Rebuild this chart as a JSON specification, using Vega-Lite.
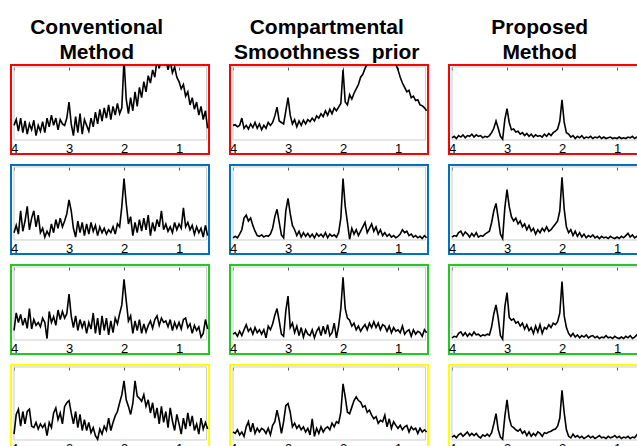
{
"$schema":"https://vega.github.io/schema/vega-lite/v6.json",
"background":"#ffffff",
"padding":{"left":9,"top":17,"right":0,"bottom":0},
"spacing":18,
"config":{"view":{"strokeWidth":2},"title":{"font":"Liberation Sans","fontSize":21,"fontWeight":"bold","lineHeight":25,"color":"#000000","anchor":"middle","offset":1},
"axisX":{"values":[4,3,2,1],"format":"d","domain":false,"ticks":false,"grid":false,"offset":-14,"labelPadding":2,"labelFontSize":13,"labelFont":"Liberation Sans","labelColor":"#000000","labelFlush":false,"title":null}},
"data":{"values":[
{"x":4.00,"a":0.20,"b":0.20,"c":0.03,"d":0.10,"e":0.03,"f":0.04,"g":0.13,"h":0.08,"i":0.03,"j":0.08,"k":0.11,"l":0.04},
{"x":3.96,"a":0.28,"b":0.21,"c":0.05,"d":0.20,"e":0.05,"f":0.06,"g":0.37,"h":0.10,"i":0.05,"j":0.35,"k":0.09,"l":0.06},
{"x":3.92,"a":0.12,"b":0.18,"c":0.02,"d":0.08,"e":0.03,"f":0.05,"g":0.24,"h":0.05,"i":0.04,"j":0.42,"k":0.14,"l":0.03},
{"x":3.88,"a":0.30,"b":0.20,"c":0.06,"d":0.40,"e":0.08,"f":0.10,"g":0.35,"h":0.12,"i":0.09,"j":0.19,"k":0.07,"l":0.07},
{"x":3.84,"a":0.10,"b":0.30,"c":0.04,"d":0.12,"e":0.14,"f":0.12,"g":0.20,"h":0.06,"i":0.11,"j":0.39,"k":0.11,"l":0.09},
{"x":3.80,"a":0.26,"b":0.16,"c":0.07,"d":0.26,"e":0.30,"f":0.06,"g":0.30,"h":0.14,"i":0.06,"j":0.22,"k":0.05,"l":0.05},
{"x":3.76,"a":0.08,"b":0.20,"c":0.03,"d":0.46,"e":0.34,"f":0.11,"g":0.16,"h":0.21,"i":0.10,"j":0.39,"k":0.18,"l":0.08},
{"x":3.72,"a":0.22,"b":0.15,"c":0.06,"d":0.14,"e":0.26,"f":0.08,"g":0.43,"h":0.12,"i":0.05,"j":0.42,"k":0.25,"l":0.11},
{"x":3.68,"a":0.14,"b":0.22,"c":0.05,"d":0.30,"e":0.30,"f":0.04,"g":0.15,"h":0.16,"i":0.09,"j":0.19,"k":0.11,"l":0.06},
{"x":3.64,"a":0.27,"b":0.17,"c":0.08,"d":0.40,"e":0.20,"f":0.09,"g":0.28,"h":0.08,"i":0.06,"j":0.17,"k":0.23,"l":0.09},
{"x":3.60,"a":0.06,"b":0.24,"c":0.04,"d":0.18,"e":0.12,"f":0.05,"g":0.20,"h":0.17,"i":0.11,"j":0.24,"k":0.09,"l":0.06},
{"x":3.56,"a":0.20,"b":0.16,"c":0.07,"d":0.34,"e":0.06,"f":0.10,"g":0.24,"h":0.10,"i":0.07,"j":0.15,"k":0.16,"l":0.09},
{"x":3.52,"a":0.12,"b":0.22,"c":0.05,"d":0.10,"e":0.05,"f":0.04,"g":0.18,"h":0.14,"i":0.08,"j":0.22,"k":0.11,"l":0.05},
{"x":3.48,"a":0.25,"b":0.14,"c":0.06,"d":0.16,"e":0.07,"f":0.06,"g":0.30,"h":0.08,"i":0.05,"j":0.17,"k":0.16,"l":0.03},
{"x":3.44,"a":0.10,"b":0.20,"c":0.03,"d":0.04,"e":0.04,"f":0.05,"g":0.24,"h":0.14,"i":0.07,"j":0.22,"k":0.14,"l":0.07},
{"x":3.40,"a":0.30,"b":0.16,"c":0.05,"d":0.12,"e":0.06,"f":0.08,"g":0.02,"h":0.03,"i":0.06,"j":0.06,"k":0.09,"l":0.05},
{"x":3.36,"a":0.18,"b":0.24,"c":0.04,"d":0.06,"e":0.05,"f":0.10,"g":0.39,"h":0.19,"i":0.08,"j":0.24,"k":0.16,"l":0.08},
{"x":3.32,"a":0.34,"b":0.20,"c":0.06,"d":0.22,"e":0.08,"f":0.12,"g":0.24,"h":0.14,"i":0.07,"j":0.17,"k":0.07,"l":0.05},
{"x":3.28,"a":0.20,"b":0.24,"c":0.10,"d":0.10,"e":0.16,"f":0.24,"g":0.32,"h":0.22,"i":0.18,"j":0.37,"k":0.20,"l":0.10},
{"x":3.24,"a":0.30,"b":0.33,"c":0.16,"d":0.28,"e":0.32,"f":0.40,"g":0.20,"h":0.34,"i":0.36,"j":0.44,"k":0.25,"l":0.22},
{"x":3.20,"a":0.14,"b":0.45,"c":0.26,"d":0.16,"e":0.42,"f":0.50,"g":0.41,"h":0.43,"i":0.48,"j":0.28,"k":0.41,"l":0.36},
{"x":3.16,"a":0.28,"b":0.26,"c":0.16,"d":0.30,"e":0.24,"f":0.30,"g":0.28,"h":0.26,"i":0.30,"j":0.37,"k":0.27,"l":0.14},
{"x":3.12,"a":0.22,"b":0.24,"c":0.05,"d":0.18,"e":0.07,"f":0.08,"g":0.39,"h":0.08,"i":0.06,"j":0.22,"k":0.09,"l":0.04},
{"x":3.08,"a":0.20,"b":0.22,"c":0.01,"d":0.26,"e":0.03,"f":0.02,"g":0.30,"h":0.05,"i":0.01,"j":0.46,"k":0.25,"l":0.01},
{"x":3.04,"a":0.30,"b":0.40,"c":0.28,"d":0.36,"e":0.40,"f":0.44,"g":0.36,"h":0.40,"i":0.45,"j":0.51,"k":0.47,"l":0.32},
{"x":3.00,"a":0.52,"b":0.58,"c":0.43,"d":0.55,"e":0.57,"f":0.69,"g":0.63,"h":0.60,"i":0.65,"j":0.54,"k":0.50,"l":0.55},
{"x":2.96,"a":0.22,"b":0.34,"c":0.24,"d":0.40,"e":0.36,"f":0.46,"g":0.33,"h":0.17,"i":0.31,"j":0.37,"k":0.38,"l":0.30},
{"x":2.92,"a":0.06,"b":0.22,"c":0.14,"d":0.16,"e":0.20,"f":0.32,"g":0.17,"h":0.23,"i":0.27,"j":0.22,"k":0.18,"l":0.19},
{"x":2.88,"a":0.32,"b":0.28,"c":0.15,"d":0.04,"e":0.14,"f":0.26,"g":0.33,"h":0.10,"i":0.29,"j":0.39,"k":0.23,"l":0.17},
{"x":2.84,"a":0.10,"b":0.18,"c":0.11,"d":0.26,"e":0.06,"f":0.30,"g":0.13,"h":0.19,"i":0.23,"j":0.17,"k":0.16,"l":0.14},
{"x":2.80,"a":0.36,"b":0.26,"c":0.12,"d":0.10,"e":0.12,"f":0.22,"g":0.28,"h":0.06,"i":0.25,"j":0.35,"k":0.20,"l":0.12},
{"x":2.76,"a":0.08,"b":0.20,"c":0.08,"d":0.24,"e":0.04,"f":0.26,"g":0.17,"h":0.17,"i":0.19,"j":0.13,"k":0.14,"l":0.15},
{"x":2.72,"a":0.28,"b":0.27,"c":0.10,"d":0.06,"e":0.10,"f":0.18,"g":0.26,"h":0.04,"i":0.23,"j":0.28,"k":0.18,"l":0.09},
{"x":2.68,"a":0.20,"b":0.22,"c":0.06,"d":0.22,"e":0.05,"f":0.22,"g":0.09,"h":0.14,"i":0.15,"j":0.13,"k":0.11,"l":0.12},
{"x":2.64,"a":0.12,"b":0.28,"c":0.09,"d":0.08,"e":0.09,"f":0.14,"g":0.24,"h":0.08,"i":0.21,"j":0.24,"k":0.16,"l":0.06},
{"x":2.60,"a":0.30,"b":0.25,"c":0.05,"d":0.24,"e":0.04,"f":0.20,"g":0.15,"h":0.06,"i":0.13,"j":0.10,"k":0.07,"l":0.11},
{"x":2.56,"a":0.18,"b":0.30,"c":0.08,"d":0.12,"e":0.08,"f":0.12,"g":0.37,"h":0.14,"i":0.17,"j":0.17,"k":0.29,"l":0.05},
{"x":2.52,"a":0.38,"b":0.26,"c":0.04,"d":0.20,"e":0.03,"f":0.16,"g":0.09,"h":0.03,"i":0.09,"j":0.06,"k":0.05,"l":0.09},
{"x":2.48,"a":0.22,"b":0.33,"c":0.07,"d":0.06,"e":0.09,"f":0.08,"g":0.30,"h":0.12,"i":0.19,"j":0.01,"k":0.16,"l":0.06},
{"x":2.44,"a":0.42,"b":0.30,"c":0.05,"d":0.18,"e":0.05,"f":0.14,"g":0.07,"h":0.17,"i":0.11,"j":0.15,"k":0.09,"l":0.11},
{"x":2.40,"a":0.26,"b":0.36,"c":0.06,"d":0.10,"e":0.08,"f":0.10,"g":0.33,"h":0.06,"i":0.21,"j":0.08,"k":0.18,"l":0.09},
{"x":2.36,"a":0.44,"b":0.32,"c":0.04,"d":0.16,"e":0.04,"f":0.16,"g":0.13,"h":0.19,"i":0.09,"j":0.19,"k":0.11,"l":0.05},
{"x":2.32,"a":0.30,"b":0.40,"c":0.08,"d":0.08,"e":0.10,"f":0.12,"g":0.30,"h":0.08,"i":0.17,"j":0.13,"k":0.16,"l":0.10},
{"x":2.28,"a":0.48,"b":0.34,"c":0.05,"d":0.14,"e":0.03,"f":0.18,"g":0.07,"h":0.21,"i":0.15,"j":0.30,"k":0.18,"l":0.09},
{"x":2.24,"a":0.28,"b":0.42,"c":0.09,"d":0.10,"e":0.08,"f":0.12,"g":0.26,"h":0.06,"i":0.21,"j":0.13,"k":0.14,"l":0.11},
{"x":2.20,"a":0.46,"b":0.36,"c":0.06,"d":0.18,"e":0.05,"f":0.14,"g":0.10,"h":0.10,"i":0.17,"j":0.24,"k":0.23,"l":0.12},
{"x":2.16,"a":0.34,"b":0.44,"c":0.10,"d":0.08,"e":0.07,"f":0.18,"g":0.30,"h":0.23,"i":0.23,"j":0.33,"k":0.18,"l":0.14},
{"x":2.12,"a":0.50,"b":0.40,"c":0.12,"d":0.22,"e":0.04,"f":0.22,"g":0.22,"h":0.03,"i":0.21,"j":0.39,"k":0.25,"l":0.15},
{"x":2.08,"a":0.36,"b":0.45,"c":0.15,"d":0.18,"e":0.10,"f":0.26,"g":0.36,"h":0.19,"i":0.25,"j":0.51,"k":0.23,"l":0.19},
{"x":2.04,"a":0.44,"b":0.50,"c":0.26,"d":0.46,"e":0.30,"f":0.40,"g":0.48,"h":0.43,"i":0.37,"j":0.62,"k":0.38,"l":0.30},
{"x":2.00,"a":1.10,"b":0.96,"c":0.55,"d":0.84,"e":0.84,"f":0.86,"g":0.83,"h":0.86,"i":0.80,"j":0.81,"k":0.77,"l":0.68},
{"x":1.96,"a":0.56,"b":0.52,"c":0.24,"d":0.50,"e":0.46,"f":0.42,"g":0.54,"h":0.43,"i":0.33,"j":0.55,"k":0.59,"l":0.37},
{"x":1.92,"a":0.36,"b":0.48,"c":0.10,"d":0.22,"e":0.24,"f":0.18,"g":0.26,"h":0.30,"i":0.17,"j":0.46,"k":0.38,"l":0.14},
{"x":1.88,"a":0.58,"b":0.62,"c":0.08,"d":0.32,"e":0.01,"f":0.10,"g":0.33,"h":0.27,"i":0.09,"j":0.35,"k":0.36,"l":0.05},
{"x":1.84,"a":0.40,"b":0.56,"c":0.04,"d":0.06,"e":0.16,"f":0.14,"g":0.09,"h":0.19,"i":0.05,"j":0.50,"k":0.45,"l":0.03},
{"x":1.80,"a":0.66,"b":0.64,"c":0.06,"d":0.24,"e":0.08,"f":0.06,"g":0.26,"h":0.23,"i":0.09,"j":0.81,"k":0.54,"l":0.08},
{"x":1.76,"a":0.46,"b":0.70,"c":0.02,"d":0.10,"e":0.14,"f":0.12,"g":0.13,"h":0.14,"i":0.04,"j":0.60,"k":0.59,"l":0.04},
{"x":1.72,"a":0.72,"b":0.76,"c":0.05,"d":0.28,"e":0.06,"f":0.05,"g":0.28,"h":0.19,"i":0.07,"j":0.57,"k":0.54,"l":0.06},
{"x":1.68,"a":0.58,"b":0.86,"c":0.03,"d":0.12,"e":0.12,"f":0.10,"g":0.09,"h":0.12,"i":0.03,"j":0.53,"k":0.52,"l":0.03},
{"x":1.64,"a":0.80,"b":0.90,"c":0.06,"d":0.30,"e":0.18,"f":0.04,"g":0.22,"h":0.17,"i":0.06,"j":0.62,"k":0.45,"l":0.05},
{"x":1.60,"a":0.66,"b":0.98,"c":0.02,"d":0.14,"e":0.24,"f":0.08,"g":0.11,"h":0.21,"i":0.04,"j":0.46,"k":0.47,"l":0.02},
{"x":1.56,"a":0.88,"b":1.04,"c":0.04,"d":0.34,"e":0.10,"f":0.03,"g":0.20,"h":0.14,"i":0.07,"j":0.55,"k":0.38,"l":0.04},
{"x":1.52,"a":0.78,"b":1.10,"c":0.03,"d":0.06,"e":0.16,"f":0.06,"g":0.26,"h":0.23,"i":0.03,"j":0.37,"k":0.41,"l":0.06},
{"x":1.48,"a":0.96,"b":1.15,"c":0.05,"d":0.24,"e":0.22,"f":0.04,"g":0.16,"h":0.17,"i":0.05,"j":0.51,"k":0.34,"l":0.03},
{"x":1.44,"a":0.86,"b":1.20,"c":0.02,"d":0.12,"e":0.12,"f":0.07,"g":0.28,"h":0.25,"i":0.06,"j":0.30,"k":0.29,"l":0.05},
{"x":1.40,"a":1.10,"b":1.24,"c":0.04,"d":0.28,"e":0.18,"f":0.03,"g":0.33,"h":0.17,"i":0.03,"j":0.44,"k":0.32,"l":0.02},
{"x":1.36,"a":0.98,"b":1.28,"c":0.03,"d":0.18,"e":0.08,"f":0.05,"g":0.20,"h":0.23,"i":0.05,"j":0.22,"k":0.23,"l":0.04},
{"x":1.32,"a":1.15,"b":1.30,"c":0.05,"d":0.40,"e":0.14,"f":0.02,"g":0.30,"h":0.14,"i":0.02,"j":0.46,"k":0.27,"l":0.06},
{"x":1.28,"a":1.05,"b":1.32,"c":0.02,"d":0.14,"e":0.06,"f":0.05,"g":0.24,"h":0.21,"i":0.04,"j":0.24,"k":0.25,"l":0.03},
{"x":1.24,"a":1.12,"b":1.30,"c":0.04,"d":0.22,"e":0.10,"f":0.03,"g":0.26,"h":0.19,"i":0.03,"j":0.39,"k":0.34,"l":0.04},
{"x":1.20,"a":0.96,"b":1.28,"c":0.02,"d":0.12,"e":0.05,"f":0.04,"g":0.18,"h":0.12,"i":0.06,"j":0.17,"k":0.18,"l":0.02},
{"x":1.16,"a":1.08,"b":1.22,"c":0.03,"d":0.18,"e":0.08,"f":0.02,"g":0.28,"h":0.19,"i":0.03,"j":0.44,"k":0.29,"l":0.05},
{"x":1.12,"a":0.92,"b":1.16,"c":0.04,"d":0.10,"e":0.04,"f":0.05,"g":0.13,"h":0.10,"i":0.04,"j":0.26,"k":0.16,"l":0.03},
{"x":1.08,"a":1.00,"b":1.10,"c":0.02,"d":0.24,"e":0.06,"f":0.03,"g":0.24,"h":0.17,"i":0.02,"j":0.13,"k":0.25,"l":0.04},
{"x":1.04,"a":0.86,"b":1.04,"c":0.03,"d":0.14,"e":0.03,"f":0.02,"g":0.16,"h":0.12,"i":0.05,"j":0.35,"k":0.20,"l":0.06},
{"x":1.00,"a":0.80,"b":0.96,"c":0.02,"d":0.22,"e":0.05,"f":0.04,"g":0.24,"h":0.14,"i":0.03,"j":0.22,"k":0.16,"l":0.03},
{"x":0.96,"a":0.70,"b":0.86,"c":0.04,"d":0.16,"e":0.08,"f":0.02,"g":0.15,"h":0.10,"i":0.02,"j":0.08,"k":0.20,"l":0.05},
{"x":0.92,"a":0.76,"b":0.78,"c":0.02,"d":0.44,"e":0.14,"f":0.05,"g":0.28,"h":0.19,"i":0.04,"j":0.30,"k":0.14,"l":0.02},
{"x":0.88,"a":0.60,"b":0.72,"c":0.03,"d":0.18,"e":0.10,"f":0.03,"g":0.30,"h":0.08,"i":0.02,"j":0.15,"k":0.18,"l":0.04},
{"x":0.84,"a":0.66,"b":0.66,"c":0.02,"d":0.24,"e":0.12,"f":0.06,"g":0.17,"h":0.12,"i":0.05,"j":0.37,"k":0.20,"l":0.03},
{"x":0.80,"a":0.48,"b":0.68,"c":0.04,"d":0.14,"e":0.06,"f":0.09,"g":0.22,"h":0.14,"i":0.03,"j":0.19,"k":0.11,"l":0.05},
{"x":0.76,"a":0.58,"b":0.58,"c":0.03,"d":0.20,"e":0.08,"f":0.04,"g":0.09,"h":0.05,"i":0.06,"j":0.33,"k":0.18,"l":0.02},
{"x":0.72,"a":0.42,"b":0.60,"c":0.05,"d":0.08,"e":0.04,"f":0.07,"g":0.20,"h":0.14,"i":0.02,"j":0.13,"k":0.14,"l":0.04},
{"x":0.68,"a":0.52,"b":0.54,"c":0.02,"d":0.18,"e":0.06,"f":0.03,"g":0.13,"h":0.08,"i":0.04,"j":0.22,"k":0.16,"l":0.03},
{"x":0.64,"a":0.34,"b":0.55,"c":0.04,"d":0.10,"e":0.03,"f":0.05,"g":0.18,"h":0.12,"i":0.07,"j":0.08,"k":0.09,"l":0.07},
{"x":0.60,"a":0.46,"b":0.48,"c":0.03,"d":0.16,"e":0.05,"f":0.02,"g":0.04,"h":0.10,"i":0.03,"j":0.30,"k":0.16,"l":0.03},
{"x":0.56,"a":0.28,"b":0.47,"c":0.06,"d":0.04,"e":0.02,"f":0.04,"g":0.09,"h":0.05,"i":0.06,"j":0.15,"k":0.11,"l":0.05},
{"x":0.52,"a":0.40,"b":0.44,"c":0.03,"d":0.20,"e":0.06,"f":0.03,"g":0.28,"h":0.14,"i":0.04,"j":0.24,"k":0.14,"l":0.04},
{"x":0.48,"a":0.16,"b":0.40,"c":0.04,"d":0.06,"e":0.03,"f":0.05,"g":0.15,"h":0.10,"i":0.05,"j":0.15,"k":0.11,"l":0.08}
]},
"hconcat":[
{"title":{"text":["Conventional","Method"],"dx":-13},"spacing":8,"vconcat":[
{"width":198,"height":89,"view":{"stroke":"#ff0000"},"resolve":{"axis":{"x":"independent"}},"layer":[
{"data":{"values":[{}]},"mark":{"type":"rect","fillOpacity":0,"stroke":"#cccccc","strokeWidth":1},"encoding":{"x":{"datum":4,"type":"quantitative","scale":{"domain":[0.455,4.055],"reverse":true},"axis":{"orient":"top","offset":-2,"labels":false,"ticks":true,"tickSize":-3,"tickColor":"#555555"}},"x2":{"datum":0.5},"y":{"datum":0,"type":"quantitative","scale":{"domain":[-0.192,1.027]},"axis":null},"y2":{"datum":1}}},
{"mark":{"type":"line","color":"#000000","strokeWidth":1.6,"clip":true},"encoding":{"x":{"field":"x","type":"quantitative","scale":{"domain":[0.455,4.055],"reverse":true},"axis":{"orient":"bottom"}},"y":{"field":"a","type":"quantitative","scale":{"domain":[-0.192,1.027]},"axis":null}}}]},
{"width":198,"height":89,"view":{"stroke":"#0070c0"},"resolve":{"axis":{"x":"independent"}},"layer":[
{"data":{"values":[{}]},"mark":{"type":"rect","fillOpacity":0,"stroke":"#cccccc","strokeWidth":1},"encoding":{"x":{"datum":4,"type":"quantitative","scale":{"domain":[0.455,4.055],"reverse":true},"axis":{"orient":"top","offset":-2,"labels":false,"ticks":true,"tickSize":-3,"tickColor":"#555555"}},"x2":{"datum":0.5},"y":{"datum":0,"type":"quantitative","scale":{"domain":[-0.192,1.027]},"axis":null},"y2":{"datum":1}}},
{"mark":{"type":"line","color":"#000000","strokeWidth":1.6,"clip":true},"encoding":{"x":{"field":"x","type":"quantitative","scale":{"domain":[0.455,4.055],"reverse":true},"axis":{"orient":"bottom"}},"y":{"field":"d","type":"quantitative","scale":{"domain":[-0.192,1.027]},"axis":null}}}]},
{"width":198,"height":89,"view":{"stroke":"#1ecb1e"},"resolve":{"axis":{"x":"independent"}},"layer":[
{"data":{"values":[{}]},"mark":{"type":"rect","fillOpacity":0,"stroke":"#cccccc","strokeWidth":1},"encoding":{"x":{"datum":4,"type":"quantitative","scale":{"domain":[0.455,4.055],"reverse":true},"axis":{"orient":"top","offset":-2,"labels":false,"ticks":true,"tickSize":-3,"tickColor":"#555555"}},"x2":{"datum":0.5},"y":{"datum":0,"type":"quantitative","scale":{"domain":[-0.192,1.027]},"axis":null},"y2":{"datum":1}}},
{"mark":{"type":"line","color":"#000000","strokeWidth":1.6,"clip":true},"encoding":{"x":{"field":"x","type":"quantitative","scale":{"domain":[0.455,4.055],"reverse":true},"axis":{"orient":"bottom"}},"y":{"field":"g","type":"quantitative","scale":{"domain":[-0.192,1.027]},"axis":null}}}]},
{"width":198,"height":89,"view":{"stroke":"#ffff00"},"resolve":{"axis":{"x":"independent"}},"layer":[
{"data":{"values":[{}]},"mark":{"type":"rect","fillOpacity":0,"stroke":"#cccccc","strokeWidth":1},"encoding":{"x":{"datum":4,"type":"quantitative","scale":{"domain":[0.455,4.055],"reverse":true},"axis":{"orient":"top","offset":-2,"labels":false,"ticks":true,"tickSize":-3,"tickColor":"#555555"}},"x2":{"datum":0.5},"y":{"datum":0,"type":"quantitative","scale":{"domain":[-0.192,1.027]},"axis":null},"y2":{"datum":1}}},
{"mark":{"type":"line","color":"#000000","strokeWidth":1.6,"clip":true},"encoding":{"x":{"field":"x","type":"quantitative","scale":{"domain":[0.455,4.055],"reverse":true},"axis":{"orient":"bottom"}},"y":{"field":"j","type":"quantitative","scale":{"domain":[-0.192,1.027]},"axis":null}}}]}
]},
{"title":{"text":["Compartmental","Smoothness\u00a0 prior"],"dx":-2},"spacing":8,"vconcat":[
{"width":198,"height":89,"view":{"stroke":"#ff0000"},"resolve":{"axis":{"x":"independent"}},"layer":[
{"data":{"values":[{}]},"mark":{"type":"rect","fillOpacity":0,"stroke":"#cccccc","strokeWidth":1},"encoding":{"x":{"datum":4,"type":"quantitative","scale":{"domain":[0.455,4.055],"reverse":true},"axis":{"orient":"top","offset":-2,"labels":false,"ticks":true,"tickSize":-3,"tickColor":"#555555"}},"x2":{"datum":0.5},"y":{"datum":0,"type":"quantitative","scale":{"domain":[-0.192,1.027]},"axis":null},"y2":{"datum":1}}},
{"mark":{"type":"line","color":"#000000","strokeWidth":1.6,"clip":true},"encoding":{"x":{"field":"x","type":"quantitative","scale":{"domain":[0.455,4.055],"reverse":true},"axis":{"orient":"bottom"}},"y":{"field":"b","type":"quantitative","scale":{"domain":[-0.192,1.027]},"axis":null}}}]},
{"width":198,"height":89,"view":{"stroke":"#0070c0"},"resolve":{"axis":{"x":"independent"}},"layer":[
{"data":{"values":[{}]},"mark":{"type":"rect","fillOpacity":0,"stroke":"#cccccc","strokeWidth":1},"encoding":{"x":{"datum":4,"type":"quantitative","scale":{"domain":[0.455,4.055],"reverse":true},"axis":{"orient":"top","offset":-2,"labels":false,"ticks":true,"tickSize":-3,"tickColor":"#555555"}},"x2":{"datum":0.5},"y":{"datum":0,"type":"quantitative","scale":{"domain":[-0.192,1.027]},"axis":null},"y2":{"datum":1}}},
{"mark":{"type":"line","color":"#000000","strokeWidth":1.6,"clip":true},"encoding":{"x":{"field":"x","type":"quantitative","scale":{"domain":[0.455,4.055],"reverse":true},"axis":{"orient":"bottom"}},"y":{"field":"e","type":"quantitative","scale":{"domain":[-0.192,1.027]},"axis":null}}}]},
{"width":198,"height":89,"view":{"stroke":"#1ecb1e"},"resolve":{"axis":{"x":"independent"}},"layer":[
{"data":{"values":[{}]},"mark":{"type":"rect","fillOpacity":0,"stroke":"#cccccc","strokeWidth":1},"encoding":{"x":{"datum":4,"type":"quantitative","scale":{"domain":[0.455,4.055],"reverse":true},"axis":{"orient":"top","offset":-2,"labels":false,"ticks":true,"tickSize":-3,"tickColor":"#555555"}},"x2":{"datum":0.5},"y":{"datum":0,"type":"quantitative","scale":{"domain":[-0.192,1.027]},"axis":null},"y2":{"datum":1}}},
{"mark":{"type":"line","color":"#000000","strokeWidth":1.6,"clip":true},"encoding":{"x":{"field":"x","type":"quantitative","scale":{"domain":[0.455,4.055],"reverse":true},"axis":{"orient":"bottom"}},"y":{"field":"h","type":"quantitative","scale":{"domain":[-0.192,1.027]},"axis":null}}}]},
{"width":198,"height":89,"view":{"stroke":"#ffff00"},"resolve":{"axis":{"x":"independent"}},"layer":[
{"data":{"values":[{}]},"mark":{"type":"rect","fillOpacity":0,"stroke":"#cccccc","strokeWidth":1},"encoding":{"x":{"datum":4,"type":"quantitative","scale":{"domain":[0.455,4.055],"reverse":true},"axis":{"orient":"top","offset":-2,"labels":false,"ticks":true,"tickSize":-3,"tickColor":"#555555"}},"x2":{"datum":0.5},"y":{"datum":0,"type":"quantitative","scale":{"domain":[-0.192,1.027]},"axis":null},"y2":{"datum":1}}},
{"mark":{"type":"line","color":"#000000","strokeWidth":1.6,"clip":true},"encoding":{"x":{"field":"x","type":"quantitative","scale":{"domain":[0.455,4.055],"reverse":true},"axis":{"orient":"bottom"}},"y":{"field":"k","type":"quantitative","scale":{"domain":[-0.192,1.027]},"axis":null}}}]}
]},
{"title":{"text":["Proposed","Method"],"dx":-7},"spacing":8,"vconcat":[
{"width":196,"height":89,"view":{"stroke":"#ff0000"},"resolve":{"axis":{"x":"independent"}},"layer":[
{"data":{"values":[{}]},"mark":{"type":"rect","fillOpacity":0,"stroke":"#cccccc","strokeWidth":1},"encoding":{"x":{"datum":4,"type":"quantitative","scale":{"domain":[0.491,4.055],"reverse":true},"axis":{"orient":"top","offset":-2,"labels":false,"ticks":true,"tickSize":-3,"tickColor":"#555555"}},"x2":{"datum":0.5},"y":{"datum":0,"type":"quantitative","scale":{"domain":[-0.192,1.027]},"axis":null},"y2":{"datum":1}}},
{"mark":{"type":"line","color":"#000000","strokeWidth":1.6,"clip":true},"encoding":{"x":{"field":"x","type":"quantitative","scale":{"domain":[0.491,4.055],"reverse":true},"axis":{"orient":"bottom"}},"y":{"field":"c","type":"quantitative","scale":{"domain":[-0.192,1.027]},"axis":null}}}]},
{"width":196,"height":89,"view":{"stroke":"#0070c0"},"resolve":{"axis":{"x":"independent"}},"layer":[
{"data":{"values":[{}]},"mark":{"type":"rect","fillOpacity":0,"stroke":"#cccccc","strokeWidth":1},"encoding":{"x":{"datum":4,"type":"quantitative","scale":{"domain":[0.491,4.055],"reverse":true},"axis":{"orient":"top","offset":-2,"labels":false,"ticks":true,"tickSize":-3,"tickColor":"#555555"}},"x2":{"datum":0.5},"y":{"datum":0,"type":"quantitative","scale":{"domain":[-0.192,1.027]},"axis":null},"y2":{"datum":1}}},
{"mark":{"type":"line","color":"#000000","strokeWidth":1.6,"clip":true},"encoding":{"x":{"field":"x","type":"quantitative","scale":{"domain":[0.491,4.055],"reverse":true},"axis":{"orient":"bottom"}},"y":{"field":"f","type":"quantitative","scale":{"domain":[-0.192,1.027]},"axis":null}}}]},
{"width":196,"height":89,"view":{"stroke":"#1ecb1e"},"resolve":{"axis":{"x":"independent"}},"layer":[
{"data":{"values":[{}]},"mark":{"type":"rect","fillOpacity":0,"stroke":"#cccccc","strokeWidth":1},"encoding":{"x":{"datum":4,"type":"quantitative","scale":{"domain":[0.491,4.055],"reverse":true},"axis":{"orient":"top","offset":-2,"labels":false,"ticks":true,"tickSize":-3,"tickColor":"#555555"}},"x2":{"datum":0.5},"y":{"datum":0,"type":"quantitative","scale":{"domain":[-0.192,1.027]},"axis":null},"y2":{"datum":1}}},
{"mark":{"type":"line","color":"#000000","strokeWidth":1.6,"clip":true},"encoding":{"x":{"field":"x","type":"quantitative","scale":{"domain":[0.491,4.055],"reverse":true},"axis":{"orient":"bottom"}},"y":{"field":"i","type":"quantitative","scale":{"domain":[-0.192,1.027]},"axis":null}}}]},
{"width":196,"height":89,"view":{"stroke":"#ffff00"},"resolve":{"axis":{"x":"independent"}},"layer":[
{"data":{"values":[{}]},"mark":{"type":"rect","fillOpacity":0,"stroke":"#cccccc","strokeWidth":1},"encoding":{"x":{"datum":4,"type":"quantitative","scale":{"domain":[0.491,4.055],"reverse":true},"axis":{"orient":"top","offset":-2,"labels":false,"ticks":true,"tickSize":-3,"tickColor":"#555555"}},"x2":{"datum":0.5},"y":{"datum":0,"type":"quantitative","scale":{"domain":[-0.192,1.027]},"axis":null},"y2":{"datum":1}}},
{"mark":{"type":"line","color":"#000000","strokeWidth":1.6,"clip":true},"encoding":{"x":{"field":"x","type":"quantitative","scale":{"domain":[0.491,4.055],"reverse":true},"axis":{"orient":"bottom"}},"y":{"field":"l","type":"quantitative","scale":{"domain":[-0.192,1.027]},"axis":null}}}]}
]}
]
}
